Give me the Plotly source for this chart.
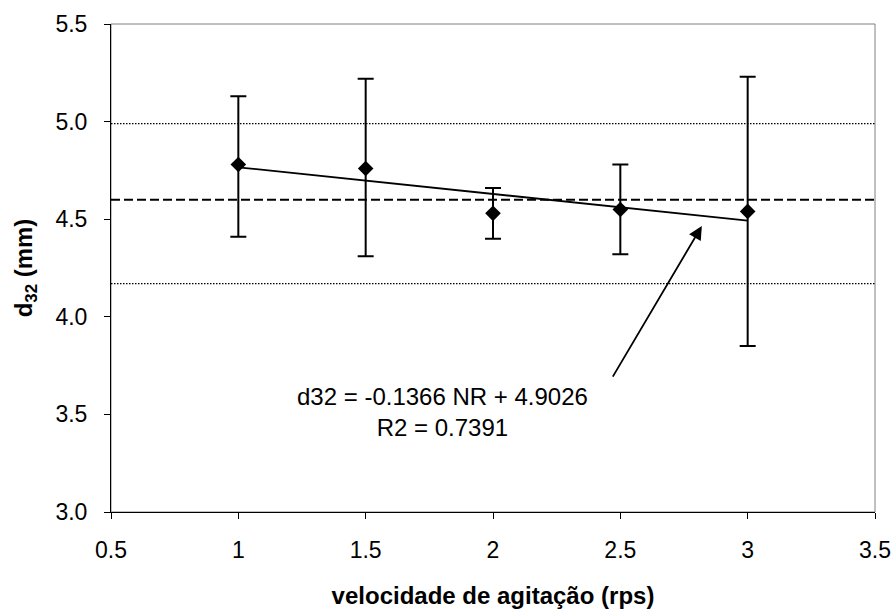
import plotly.graph_objects as go

# Data
rps = [1, 1.5, 2, 2.5, 3]
d32 = [4.78, 4.76, 4.53, 4.55, 4.54]
d32_upper = [5.13, 5.22, 4.66, 4.78, 5.23]
d32_lower = [4.41, 4.31, 4.40, 4.32, 3.85]

slope = -0.1366
intercept = 4.9026
fit_x = [1, 3]

mean_line = 4.60
band_lines = [4.99, 4.17]

x_ticks = [0.5, 1, 1.5, 2, 2.5, 3, 3.5]
x_ticklabels = ["0.5", "1", "1.5", "2", "2.5", "3", "3.5"]
y_ticks = [3.0, 3.5, 4.0, 4.5, 5.0, 5.5]
y_ticklabels = ["3.0", "3.5", "4.0", "4.5", "5.0", "5.5"]

FONT = "Liberation Sans, Arial, sans-serif"

err_plus = [u - v for u, v in zip(d32_upper, d32)]
err_minus = [v - l for v, l in zip(d32, d32_lower)]

fig = go.Figure()

fig.add_trace(go.Scatter(
    x=fit_x, y=[intercept + slope * xx for xx in fit_x],
    mode="lines", line=dict(color="black", width=1.8),
    showlegend=False, hoverinfo="skip"))

fig.add_trace(go.Scatter(
    x=rps, y=d32, mode="markers",
    marker=dict(symbol="diamond", size=12, color="black"),
    error_y=dict(type="data", symmetric=False, array=err_plus, arrayminus=err_minus,
                 color="black", thickness=2, width=8),
    showlegend=False))

shapes = [
    dict(type="rect", xref="paper", yref="paper", x0=0, x1=1, y0=0, y1=1,
         line=dict(color="#808080", width=1), layer="below"),
    dict(type="line", xref="paper", x0=0, x1=1, yref="y", y0=mean_line, y1=mean_line,
         line=dict(color="black", width=2, dash="9px,4px"), layer="below"),
]
for b in band_lines:
    shapes.append(dict(type="line", xref="paper", x0=0, x1=1, yref="y", y0=b, y1=b,
                       line=dict(color="black", width=1.2, dash="1.5px,1.5px"), layer="below"))

annotations = [
    dict(x=2.82, y=4.465, xref="x", yref="y", ax=2.467, ay=3.686, axref="x", ayref="y",
         showarrow=True, arrowhead=2, arrowsize=1.5, arrowwidth=1.8, arrowcolor="black", text=""),
    dict(x=1.80, y=3.51, xref="x", yref="y", showarrow=False,
         text="d32 = -0.1366 NR + 4.9026<br>R2 = 0.7391",
         font=dict(family=FONT, size=24, color="black"), align="center"),
]

fig.update_layout(
    width=892, height=609,
    margin=dict(l=111, r=17, t=24, b=97, autoexpand=False),
    paper_bgcolor="white", plot_bgcolor="white",
    font=dict(family=FONT, size=23, color="black"),
    shapes=shapes, annotations=annotations,
    xaxis=dict(range=[0.5, 3.5], tickvals=x_ticks, ticktext=x_ticklabels,
               automargin=False,
               showgrid=False, zeroline=False, showline=True, linecolor="black",
               linewidth=1, mirror=False, ticks="outside", ticklen=6, tickcolor="black",
               tickfont=dict(size=23), ticklabelstandoff=11,
               title=dict(text="<b>velocidade de agitação (rps)</b>", standoff=31,
                          font=dict(size=24))),
    yaxis=dict(range=[3.0, 5.5], tickvals=y_ticks, ticktext=y_ticklabels,
               automargin=False,
               showgrid=False, zeroline=False, showline=True, linecolor="black",
               linewidth=1, mirror=False, ticks="outside", ticklen=6, tickcolor="black",
               tickfont=dict(size=23), ticklabelstandoff=12,
               title=dict(text="<b>d<sub>32</sub> (mm)</b>", standoff=16,
                          font=dict(size=24))),
)

fig.write_html("out.html")
